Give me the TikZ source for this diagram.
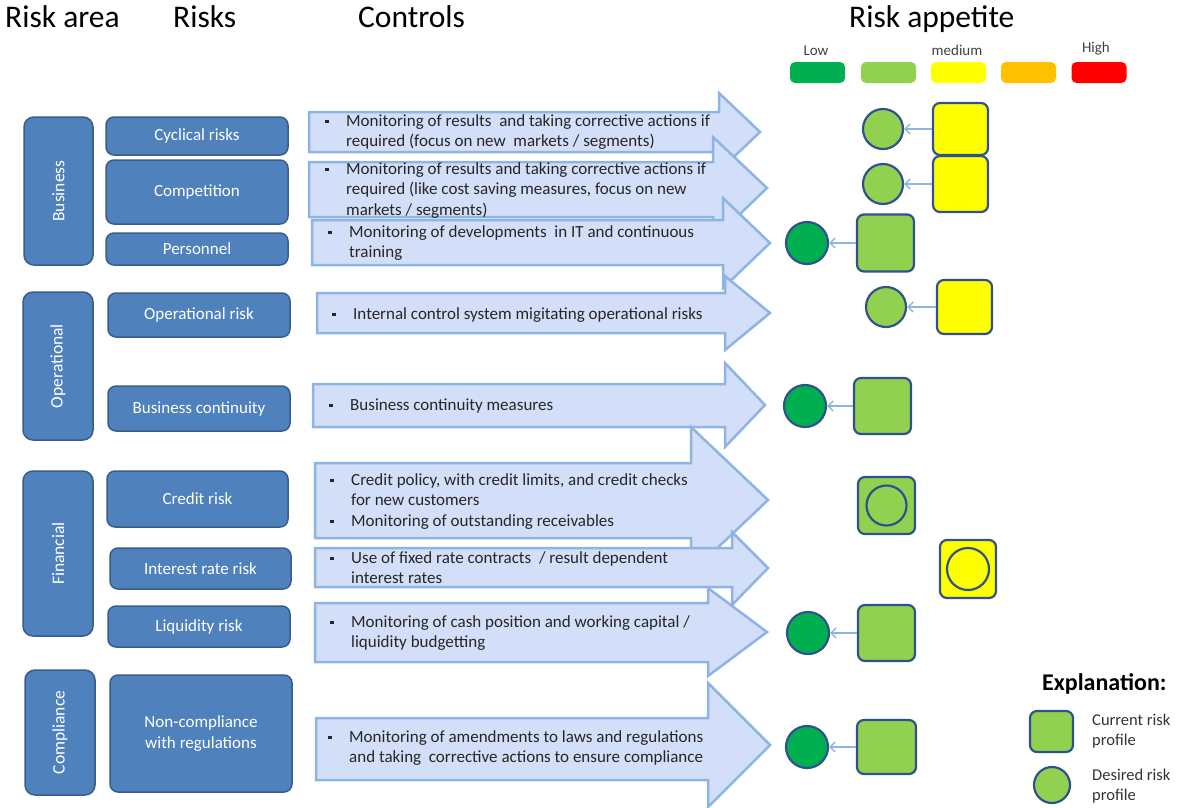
\documentclass[tikz,border=0pt]{standalone}
\usepackage{fontspec}
\setmainfont{Carlito}
\usetikzlibrary{arrows.meta,positioning}
\definecolor{boxblue}{HTML}{4F81BD}
\definecolor{boxedge}{HTML}{385D8A}
\definecolor{ctrlfill}{HTML}{D3DFF8}
\definecolor{ctrledge}{HTML}{8DB4E2}
\definecolor{ringblue}{HTML}{2F528F}
\definecolor{lowgreen}{HTML}{00B050}
\definecolor{litegreen}{HTML}{92D050}
\definecolor{midyellow}{HTML}{FFFF00}
\definecolor{amber}{HTML}{FFC000}
\definecolor{highred}{HTML}{FF0000}
\newcommand{\blt}{\makebox[21pt][l]{\rule[3pt]{3.5pt}{3.5pt}}}
\newcommand{\ind}{\hspace*{21pt}}
\tikzset{
  area/.style={draw=boxedge, fill=boxblue, line width=1.5pt, rounded corners=10pt,
    text=white, font=\fontsize{17.5}{20}\selectfont, inner sep=0pt},
  risk/.style={draw=boxedge, fill=boxblue, line width=1.5pt, rounded corners=8pt,
    text=white, font=\fontsize{17}{21}\selectfont, align=center, inner sep=0pt},
  ctrl/.style={draw=ctrledge, fill=ctrlfill, line width=2.5pt, line join=miter},
  ctrltext/.style={anchor=base west, inner sep=0pt, align=left, text=black!85,
    font=\fontsize{17}{20.5}\selectfont},
  cur/.style={draw=ringblue, line width=2.2pt, rounded corners=7pt, inner sep=0pt},
  des/.style={circle, draw=ringblue, line width=2.2pt, inner sep=0pt},
  link/.style={draw=ctrledge, line width=1.5pt, -{Straight Barb[length=5pt,width=10pt]}},
  head/.style={anchor=base west, inner sep=0pt, font=\fontsize{31.5}{36}\selectfont},
  lvl/.style={rounded corners=5pt, minimum width=55, minimum height=21, inner sep=0pt},
  lvltext/.style={anchor=base, inner sep=0pt, text=black!75, font=\fontsize{15}{17}\selectfont},
  note/.style={anchor=base west, inner sep=0pt, align=left, text=black!80,
    font=\fontsize{16.5}{20.5}\selectfont}
}
\begin{document}
\begin{tikzpicture}[x=1pt,y=-1pt]
  \useasboundingbox (0,0) rectangle (1184,807);
  % column heads
  \node[head] (harea) at (5,27) {Risk area};
  \node[head] (hrisks) at (173,27) {Risks};
  \node[head] (hctrl) at (358,27) {Controls};
  \node[head] (happ) at (849,27) {Risk appetite};
  % appetite scale
  \node[lvl, fill=lowgreen] (lvl1) at (817.5,72.5) {};
  \node[lvl, fill=litegreen] (lvl2) at (888.5,72.5) {};
  \node[lvl, fill=midyellow] (lvl3) at (958.5,72.5) {};
  \node[lvl, fill=amber] (lvl4) at (1028.5,72.5) {};
  \node[lvl, fill=highred] (lvl5) at (1099,72.5) {};
  \node[lvltext] (low) at (816,55) {Low};
  \node[lvltext] (medium) at (957,55) {medium};
  \node[lvltext] (high) at (1096,52) {High};
  % risk areas
  \node[area, rotate=90, minimum width=148, minimum height=69] (business) at (58.5,191) {Business};
  \node[area, rotate=90, minimum width=148, minimum height=70] (operational) at (58,366) {Operational};
  \node[area, rotate=90, minimum width=165, minimum height=70] (financial) at (58,553.5) {Financial};
  \node[area, rotate=90, minimum width=125, minimum height=70] (compliance) at (60,732.5) {Compliance};
  % risks
  \node[risk, minimum width=182, minimum height=38] (cyclical) at (197,136) {Cyclical risks};
  \node[risk, minimum width=182, minimum height=64] (competition) at (197,192) {Competition};
  \node[risk, minimum width=182, minimum height=32] (personnel) at (197,249) {Personnel};
  \node[risk, minimum width=182, minimum height=44] (oprisk) at (199,315) {Operational risk};
  \node[risk, minimum width=182, minimum height=45] (continuity) at (199,408.5) {Business continuity};
  \node[risk, minimum width=181, minimum height=56] (credit) at (197.5,499) {Credit risk};
  \node[risk, minimum width=181, minimum height=41] (interest) at (200.5,568.5) {Interest rate risk};
  \node[risk, minimum width=182, minimum height=41] (liquidity) at (199,626.5) {Liquidity risk};
  \node[risk, minimum width=182, minimum height=117] (noncomp) at (201,733.5) {Non-compliance\\with regulations};
  % control arrows
  \foreach \xa/\ya/\yb/\xb/\hu/\hd/\xc/\yc in {
      309/112/152/719/93/171/760/132,
      309/162/217/713/137/240/767/188,
      312/220/265/723/198/288/770/243,
      317/293/333/725/276/350/770/313,
      313/384/427/725/363/447/765/405,
      315/463/538/691/427/573/768/500,
      315/548/587/732/532/605/768/568,
      315/603/662/708/588/676/767/632,
      316/718/780/708/683/807/770/745}
    \draw[ctrl] (\xa,\ya) -- (\xb,\ya) -- (\xb,\hu) -- (\xc,\yc) -- (\xb,\hd)
      -- (\xb,\yb) -- (\xa,\yb) -- cycle;
  \node[ctrltext] (ctl1) at (325,146.5) {\blt Monitoring of results\ \ and taking corrective actions if\\
    \ind required (focus on new\ \ markets / segments)};
  \node[ctrltext] (ctl2) at (325,215) {\blt Monitoring of results and taking corrective actions if\\
    \ind required (like cost saving measures, focus on new\\ \ind markets / segments)};
  \node[ctrltext] (ctl3) at (328,257.5) {\blt Monitoring of developments\ \ in IT and continuous\\
    \ind training};
  \node[ctrltext] (ctl4) at (332,319) {\blt Internal control system migitating operational risks};
  \node[ctrltext] (ctl5) at (329,410) {\blt Business continuity measures};
  \node[ctrltext] (ctl6) at (330,526) {\blt Credit policy, with credit limits, and credit checks\\
    \ind for new customers\\ \blt Monitoring of outstanding receivables};
  \node[ctrltext] (ctl7) at (330,583.5) {\blt Use of fixed rate contracts\ \ / result dependent\\
    \ind interest rates};
  \node[ctrltext] (ctl8) at (330,647.5) {\blt Monitoring of cash position and working capital /\\
    \ind liquidity budgetting};
  \node[ctrltext] (ctl9) at (328,762.5) {\blt Monitoring of amendments to laws and regulations\\
    \ind and taking\ \ corrective actions to ensure compliance};
  % current and desired profile
  \node[cur, fill=midyellow, minimum width=55, minimum height=52] (cur1) at (960.5,129) {};
  \node[des, fill=litegreen, minimum size=40] (des1) at (883,129) {};
  \node[cur, fill=midyellow, minimum width=55, minimum height=56] (cur2) at (960.5,184) {};
  \node[des, fill=litegreen, minimum size=40] (des2) at (883,184) {};
  \node[cur, fill=litegreen, minimum width=57, minimum height=57] (cur3) at (885.5,243) {};
  \node[des, fill=lowgreen, minimum size=42] (des3) at (807,243) {};
  \node[cur, fill=midyellow, minimum width=55, minimum height=54] (cur4) at (964.5,307) {};
  \node[des, fill=litegreen, minimum size=40] (des4) at (886,307) {};
  \node[cur, fill=litegreen, minimum width=57, minimum height=56] (cur5) at (882.5,406) {};
  \node[des, fill=lowgreen, minimum size=42] (des5) at (805,406) {};
  \node[cur, fill=litegreen, minimum width=57, minimum height=57] (cur6) at (886.5,505.5) {};
  \node[des, minimum size=40] (des6) at (886.5,505.5) {};
  \node[cur, fill=midyellow, minimum width=56, minimum height=58] (cur7) at (968,569) {};
  \node[des, minimum size=42] (des7) at (968,569) {};
  \node[cur, fill=litegreen, minimum width=57, minimum height=56] (cur8) at (886.5,633) {};
  \node[des, fill=lowgreen, minimum size=42] (des8) at (808,633) {};
  \node[cur, fill=litegreen, minimum width=59, minimum height=54] (cur9) at (886.5,747) {};
  \node[des, fill=lowgreen, minimum size=42] (des9) at (807,747) {};
  \foreach \i in {1,2,3,4,5,8,9}
    \draw[link] (cur\i.west) -- (des\i.east);
  % explanation
  \node[anchor=base west, inner sep=0pt, font=\bfseries\fontsize{24}{28}\selectfont] (expl) at (1042,690) {Explanation:};
  \node[cur, fill=litegreen, minimum width=43, minimum height=41] (curkey) at (1051.5,731.5) {};
  \node[des, fill=litegreen, minimum size=36] (deskey) at (1052,785) {};
  \node[note] (curtext) at (1092,745.5) {Current risk\\profile};
  \node[note] (destext) at (1092,800.5) {Desired risk\\profile};
\end{tikzpicture}
\end{document}
